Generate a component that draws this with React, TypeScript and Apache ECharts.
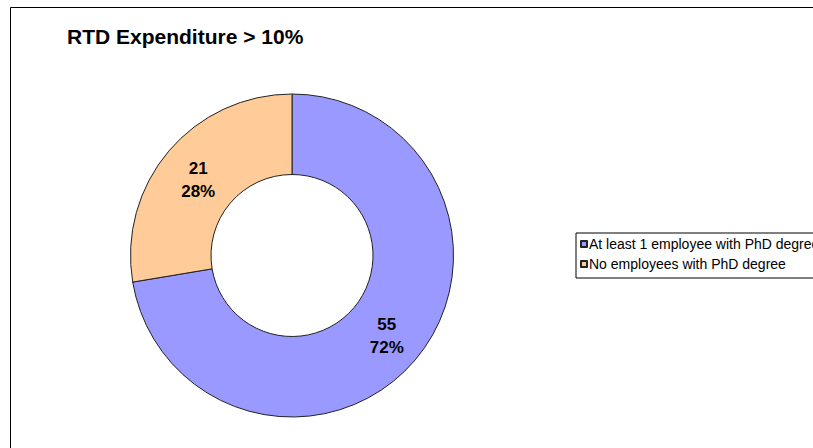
import React, { useEffect, useRef } from "react";
import * as echarts from "echarts";

const title = "RTD Expenditure > 10%";
const categories = ["At least 1 employee with PhD degree", "No employees with PhD degree"];
const values = [55, 21];
const colors = ["#9999FF", "#FFCC99"];

export default function App() {
  const ref = useRef<HTMLDivElement>(null);
  useEffect(() => {
    if (!ref.current) return;
    const chart = echarts.init(ref.current, null, { renderer: "svg" });
    chart.setOption({
      animation: false,
      backgroundColor: "#ffffff",
      title: {
        text: title,
        left: 62,
        top: 21,
        textStyle: {
          fontFamily: "Liberation Sans, Arial, sans-serif",
          fontSize: 21,
          fontWeight: "bold",
          color: "#000000",
        },
      },
      graphic: [
        {
          type: "rect",
          shape: { x: 10.5, y: 7.5, width: 900, height: 600 },
          style: { fill: "none", stroke: "#000000", lineWidth: 1 },
          silent: true,
          z: -1,
        },
      ],
      legend: {
        orient: "vertical",
        left: 576,
        top: 233,
        padding: [4, 10, 7, 4],
        itemGap: 6,
        itemWidth: 6,
        itemHeight: 6,
        icon: "rect",
        borderColor: "#000000",
        borderWidth: 1,
        borderRadius: 0,
        textStyle: {
          fontFamily: "Liberation Sans, Arial, sans-serif",
          fontSize: 14,
          lineHeight: 14,
          color: "#000000",
          padding: [0, 0, 0, -3],
        },
        data: categories,
      },
      series: [
        {
          type: "pie",
          center: [292, 255.5],
          radius: [81, 161.5],
          startAngle: 90,
          clockwise: true,
          percentPrecision: 0,
          data: categories.map((name, i) => ({
            name,
            value: values[i],
            itemStyle: { color: colors[i] },
            label: i === 1 ? { offset: [1, 5] } : {},
          })),
          itemStyle: { borderColor: "#222222", borderWidth: 1 },
          label: {
            show: true,
            position: "inside",
            formatter: "{c}\n{d}%",
            fontFamily: "Liberation Sans, Arial, sans-serif",
            fontSize: 17,
            fontWeight: "bold",
            lineHeight: 23,
            color: "#000000",
          },
          labelLine: { show: false },
          emphasis: { disabled: true },
        },
      ],
    });
    return () => chart.dispose();
  }, []);
  return (
    <div
      ref={ref}
      style={{ position: "absolute", left: 0, top: 0, width: 813, height: 448 }}
    />
  );
}
